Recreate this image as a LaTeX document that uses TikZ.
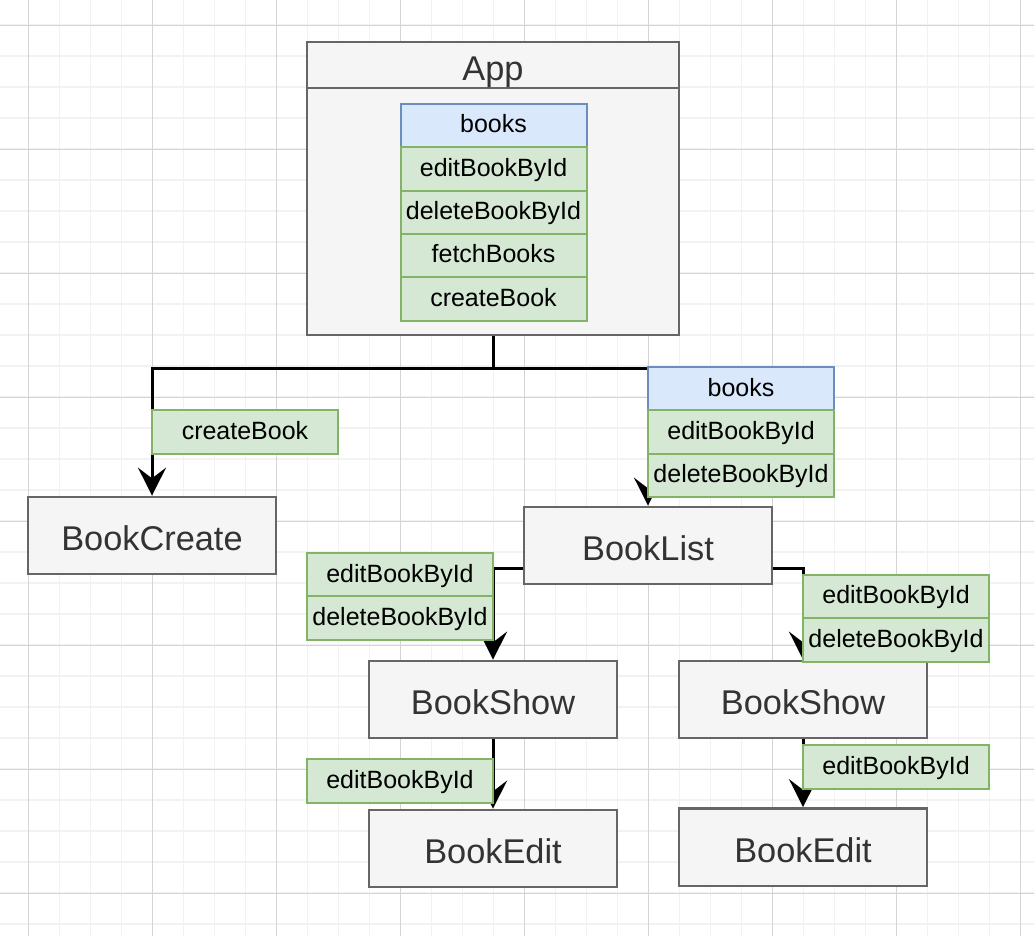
\documentclass[tikz,border=0pt]{standalone}
\usepackage{fontspec}
\setmainfont{Liberation Sans}
\usepackage{tikz}
\usetikzlibrary{positioning,arrows.meta}

\definecolor{gridminor}{HTML}{F2F2F2}
\definecolor{gridmajor}{HTML}{D4D4D4}
\definecolor{compfill}{HTML}{F5F5F5}
\definecolor{compline}{HTML}{666666}
\definecolor{comptext}{HTML}{333333}
\definecolor{propfill}{HTML}{D5E8D4}
\definecolor{propline}{HTML}{82B366}
\definecolor{statefill}{HTML}{DAE8FC}
\definecolor{stateline}{HTML}{6C8EBF}

\begin{document}
\begin{tikzpicture}[
		x=0.75pt, y=-0.75pt
		,comp/.style={draw=compline, fill=compfill, line width=1.75pt, text=comptext, inner sep=0pt
			, minimum width=186pt, minimum height=58pt, text height=22.5pt, text depth=0pt
			, font=\fontsize{25.75}{30}\selectfont}
		,prop/.style={draw=propline, fill=propfill, line width=1.5pt, inner sep=0pt, outer sep=0pt
			, minimum width=139.5pt, minimum height=32.5pt, text height=11pt, text depth=0pt
			, font=\fontsize{18.75}{22}\selectfont}
		,state/.style={prop, draw=stateline, fill=statefill}
		,pass/.style={line width=2.25pt, -{Stealth[length=21pt, width=21pt, inset=8pt]}}
	]
	\useasboundingbox (0,0) rectangle (1034,936);
	\fill[white] (0,0) rectangle (1034,936);
	% background grid
	\foreach \x in {-2.5,28.5,...,1021}
		\draw[gridminor, line width=0.9pt] (\x,0) -- (\x,936);
	\foreach \y in {-6,25,...,925}
		\draw[gridminor, line width=0.9pt] (0,\y) -- (1034,\y);
	\foreach \x in {28.5,152.5,...,1021}
		\draw[gridmajor, line width=0.75pt] (\x,0) -- (\x,936);
	\foreach \y in {25,149,...,925}
		\draw[gridmajor, line width=0.75pt] (0,\y) -- (1034,\y);

	% components
	\node[comp, minimum width=279pt, minimum height=219.75pt] (app) at (493,188.5) {};
	\coordinate (apphead) at (493,88);
	\draw[compline, line width=1.75pt] (app.west |- apphead) -- (app.east |- apphead);
	\node[comp, draw=none, fill=none] (apptitle) at (493,65) {App};

	\node[comp] (create) at (152,535.5) {BookCreate};
	\node[comp] (list) at (648,545.5) {BookList};
	\node[comp] (showl) at (493,699.5) {BookShow};
	\node[comp] (showr) at (803,699.5) {BookShow};
	\node[comp] (editl) at (493,848.5) {BookEdit};
	\node[comp] (editr) at (803,847) {BookEdit};

	% connectors
	\draw[pass] (app.south) -- ++(0,32) -| (create.north);
	\draw[pass] (app.south) -- ++(0,32) -| (list.north);
	\draw[pass] ([yshift=-17.5pt]list.west) -| (showl.north);
	\draw[pass] ([yshift=-17.5pt]list.east) -| (showr.north);
	\draw[pass] (showl.south) -- (editl.north);
	\draw[pass] (showr.south) -- (editr.north);

	% state in App
	\node[state] (appbooks) at (493.5,125.6) {books};
	\node[prop, below=0pt of appbooks] (appedit) {editBookById};
	\node[prop, below=0pt of appedit] (appdelete) {deleteBookById};
	\node[prop, below=0pt of appdelete] (appfetch) {fetchBooks};
	\node[prop, below=0pt of appfetch] (appcreate) {createBook};

	% props passed down
	\node[prop] (createprop) at (245,432) {createBook};

	\node[state] (listbooks) at (741,388.7) {books};
	\node[prop, below=0pt of listbooks] (listedit) {editBookById};
	\node[prop, below=0pt of listedit] (listdelete) {deleteBookById};

	\node[prop] (showledit) at (400,574.7) {editBookById};
	\node[prop, below=0pt of showledit] (showldelete) {deleteBookById};

	\node[prop] (showredit) at (896,596.5) {editBookById};
	\node[prop, below=0pt of showredit] (showrdelete) {deleteBookById};

	\node[prop] (editledit) at (400,781) {editBookById};
	\node[prop] (editredit) at (896,767) {editBookById};
\end{tikzpicture}
\end{document}
